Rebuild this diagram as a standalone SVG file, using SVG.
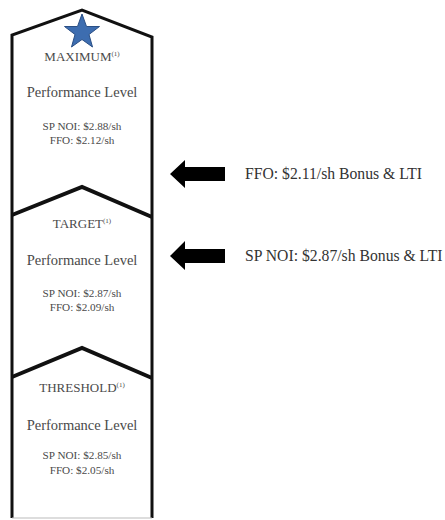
<svg xmlns="http://www.w3.org/2000/svg" width="445" height="520" viewBox="0 0 445 520">
<defs>
<style>
.t{font-family:"Liberation Serif","Times New Roman",serif;fill:#4a4a4a;text-anchor:middle}
.h{font-size:13px}
.p{font-size:14.5px}
.v{font-size:11.2px}
.sup{font-size:7px}
.lbl{font-family:"Liberation Serif","Times New Roman",serif;fill:#333;font-size:15.7px}
.edge{fill:none;stroke:#111;stroke-width:3}
.chev{fill:none;stroke:#111;stroke-width:4;stroke-linejoin:miter}
.arr{fill:#000}
</style>
</defs>
<rect width="445" height="520" fill="#fff"/>
<g id="column">
<path class="edge" d="M12,518 L12,35 L82,10 L152,37 L152,518"/>
<line x1="12" y1="518" x2="152" y2="518" stroke="#bbb" stroke-width="1"/>
</g>
<g id="maximum">
<polygon points="82,14 86.5,26.5 99.5,26.5 89,34.5 92.5,47 82,39.5 71.5,47 75,34.5 64.5,26.5 77.5,26.5" fill="#3d6db0" stroke="#2a4f85" stroke-width="1"/>
<text class="t h" x="82" y="61">MAXIMUM<tspan class="sup" dy="-5">(1)</tspan></text>
<text class="t p" x="82" y="97">Performance Level</text>
<text class="t v" x="82" y="130">SP NOI: $2.88/sh</text>
<text class="t v" x="82" y="144">FFO: $2.12/sh</text>
</g>
<g id="target">
<path class="chev" d="M12,215 L82,187 L152,217"/>
<text class="t h" x="82" y="228">TARGET<tspan class="sup" dy="-5">(1)</tspan></text>
<text class="t p" x="82" y="265">Performance Level</text>
<text class="t v" x="82" y="297">SP NOI: $2.87/sh</text>
<text class="t v" x="82" y="311">FFO: $2.09/sh</text>
</g>
<g id="threshold">
<path class="chev" d="M12,377 L82,348 L152,378"/>
<text class="t h" x="82" y="392">THRESHOLD<tspan class="sup" dy="-5">(1)</tspan></text>
<text class="t p" x="82" y="430">Performance Level</text>
<text class="t v" x="82" y="459">SP NOI: $2.85/sh</text>
<text class="t v" x="82" y="474">FFO: $2.05/sh</text>
</g>
<g id="connectors">
<polygon class="arr" points="170,174 185,160 185,167 225,167 225,181 185,181 185,188"/>
<polygon class="arr" points="170,256 185,241 185,249 225,249 225,263 185,263 185,270"/>
</g>
<g id="labels">
<text class="lbl" x="245" y="179">FFO: $2.11/sh Bonus &amp; LTI</text>
<text class="lbl" x="245" y="261">SP NOI: $2.87/sh Bonus &amp; LTI</text>
</g>
</svg>
